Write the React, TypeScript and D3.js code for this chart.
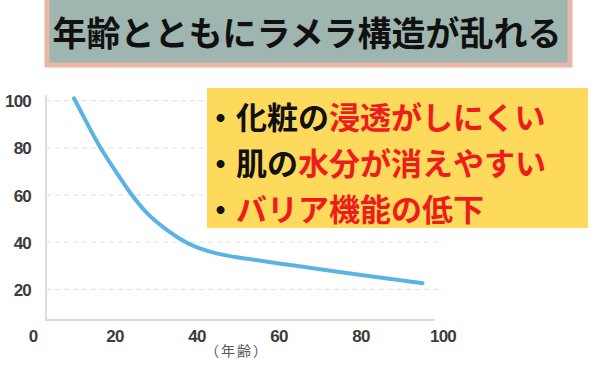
import * as d3 from 'd3';

// age (x) vs. relative value (y)
const ages = [10, 13, 16, 20, 24, 28, 32, 36, 40, 45, 50, 60, 70, 80, 90, 95];
const values = [101, 91, 81, 70.5, 60, 51.5, 46, 41, 37.5, 35, 33.5, 31, 28.5, 26, 23.8, 22.6];

const xTicks = [0, 20, 40, 60, 80, 100];
const yTicks = [20, 40, 60, 80, 100];

const title = '年齢とともにラメラ構造が乱れる';
const xLabel = '（年齢）';

// bullet lines: [black part, red part]
const notes: [string, string][] = [
  ['・化粧の', '浸透がしにくい'],
  ['・肌の', '水分が消えやすい'],
  ['・', 'バリア機能の低下'],
];

const W = 600;
const H = 371;

export default function App() {
  const x = d3.scaleLinear().domain([0, 100]).range([33, 443]);
  const y = d3.scaleLinear().domain([0, 100]).range([336.5, 100.7]);

  const line = d3
    .line<number>()
    .x((d, i) => x(ages[i]))
    .y(d => y(d))
    .curve(d3.curveBasis);

  const axisLeft = 46;
  const axisBottom = 320;
  const cjk = '"Noto Sans CJK JP", "Noto Sans", sans-serif';
  const num = '"Liberation Sans", Arial, sans-serif';

  return (
    <svg
      width={W}
      height={H}
      style={{ position: 'absolute', left: 0, top: 0, background: '#fff' }}
    >
      {/* grid */}
      {yTicks.map(t => (
        <line
          key={'g' + t}
          x1={axisLeft}
          x2={443}
          y1={y(t)}
          y2={y(t)}
          stroke='#dedede'
          strokeWidth={1}
          strokeDasharray='5 4'
        />
      ))}

      {/* axes */}
      <line x1={axisLeft} x2={axisLeft} y1={95} y2={axisBottom + 1} stroke='#dcdcdc' strokeWidth={2} />
      <line x1={axisLeft - 1} x2={435} y1={axisBottom} y2={axisBottom} stroke='#dcdcdc' strokeWidth={2} />

      {yTicks.map(t => (
        <text
          key={'y' + t}
          x={31}
          y={y(t) + 1}
          textAnchor='end'
          dominantBaseline='central'
          fontFamily={num}
          fontWeight='bold'
          fontSize={17}
          letterSpacing={-0.8}
          fill='#3c3c3c'
        >
          {t}
        </text>
      ))}
      {xTicks.map(t => (
        <text
          key={'x' + t}
          x={x(t)}
          y={336}
          textAnchor='middle'
          dominantBaseline='central'
          fontFamily={num}
          fontWeight='bold'
          fontSize={17}
          letterSpacing={-0.8}
          fill='#3c3c3c'
        >
          {t}
        </text>
      ))}
      <text
        x={237}
        y={350}
        textAnchor='middle'
        dominantBaseline='central'
        fontFamily={cjk}
        fontSize={14}
        letterSpacing={2}
        fill='#555'
      >
        {xLabel}
      </text>

      {/* curve */}
      <path
        d={line(values) ?? ''}
        fill='none'
        stroke='#5ab4e1'
        strokeWidth={4}
        strokeLinecap='round'
      />

      {/* title banner */}
      <rect x={47} y={-3} width={523} height={68} fill='#9fb6b0' stroke='#e9b6a7' strokeWidth={5} />
      <text
        x={307}
        y={31}
        textAnchor='middle'
        dominantBaseline='central'
        fontFamily={cjk}
        fontWeight='bold'
        fontSize={34}
        fill='#111'
      >
        {title}
      </text>

      {/* note box */}
      <rect x={207} y={88} width={381} height={140} fill='#fdda5b' />
      {notes.map(([a, b], i) => (
        <text
          key={'n' + i}
          x={205}
          y={115 + i * 46}
          dominantBaseline='central'
          fontFamily={cjk}
          fontWeight='bold'
          fontSize={31}
        >
          <tspan fill='#111'>{a}</tspan>
          <tspan fill='#ee1d1d'>{b}</tspan>
        </text>
      ))}
    </svg>
  );
}
